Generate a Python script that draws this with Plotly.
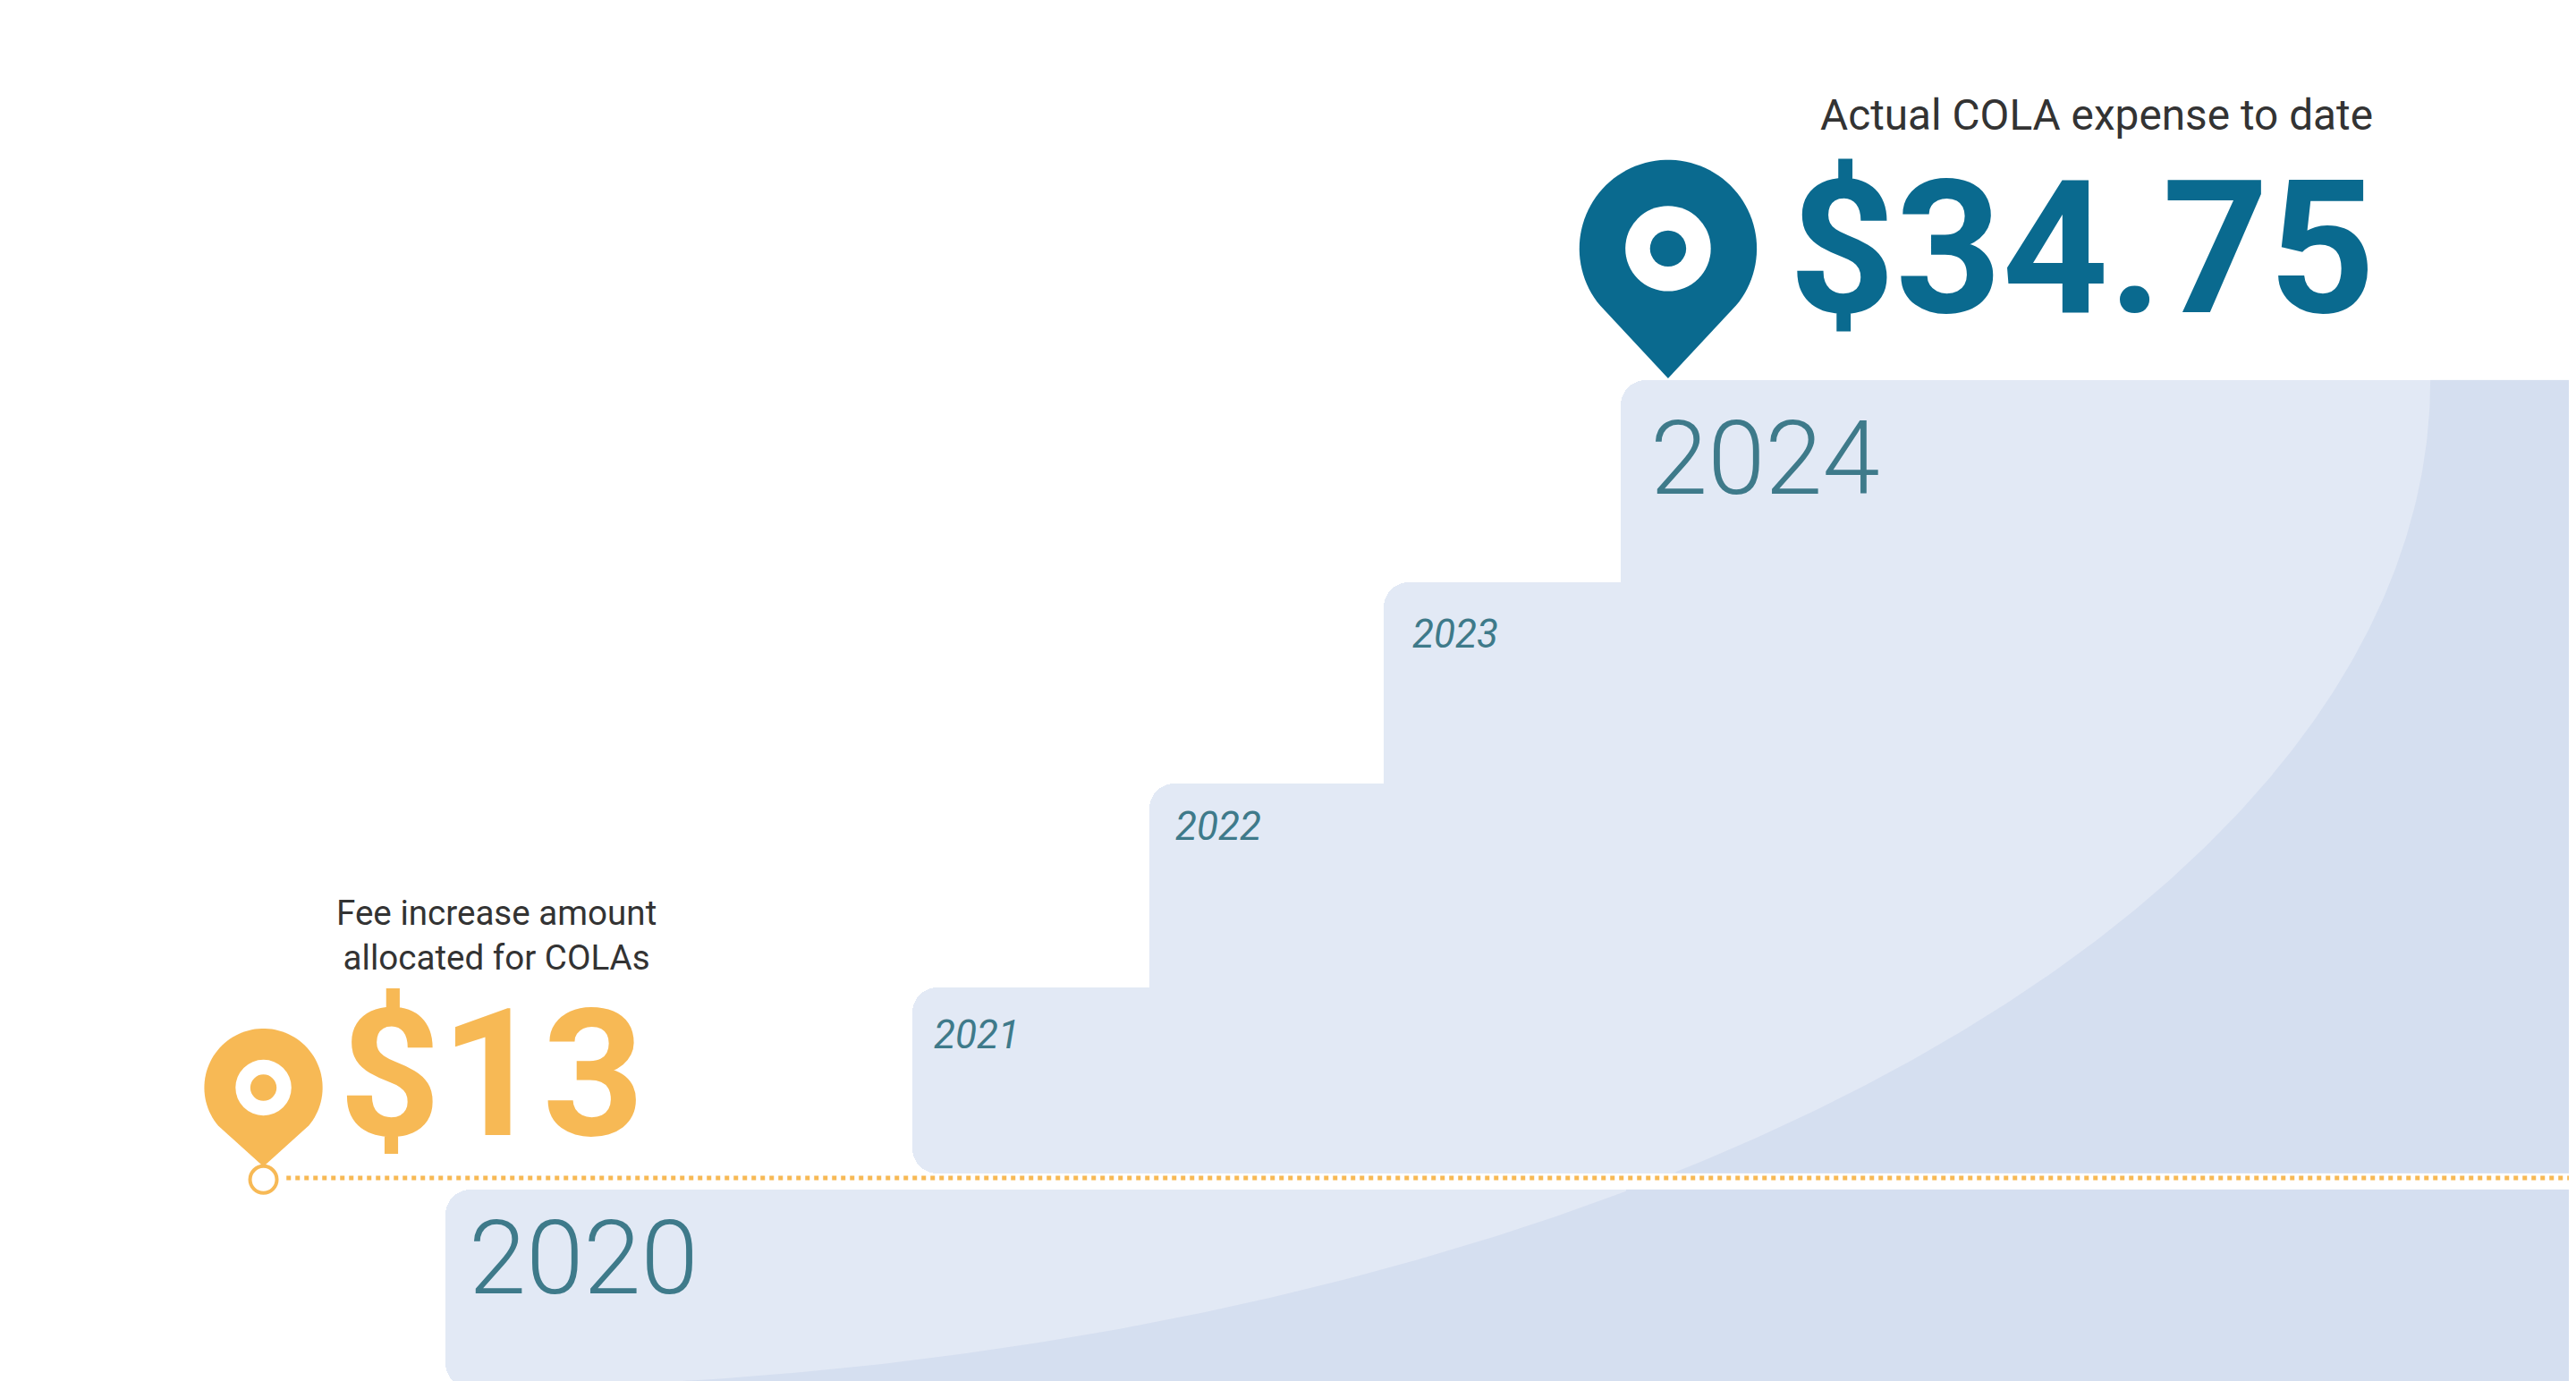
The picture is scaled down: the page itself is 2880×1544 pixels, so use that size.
import plotly.graph_objects as go
import numpy as np

W, H = 1568, 841  # design units (scaled to 2880x1544)
years = ["2020", "2021", "2022", "2023", "2024"]
step_left = [267, 551, 695, 838, 982]
step_top = [720, 597, 473, 350, 227]
fee_amount = "$13"
actual_amount = "$34.75"

def Y(p):
    return H - p

fig = go.Figure()
STEP = "#e2e9f5"
for i, yr in enumerate(years):
    base = 0 if i == 0 else Y(710)
    x0 = step_left[i]
    x1 = W + 40
    fig.add_trace(go.Bar(x=[(x0 + x1) / 2], y=[Y(step_top[i]) - base], base=[base],
                         width=[x1 - x0], marker=dict(color=STEP, line_width=0, cornerradius=28),
                         hoverinfo="skip", showlegend=False))

# darker lower-right tint (outside a large ellipse centred upper-left)
def tint(ylo, yhi):
    t = np.linspace(0, np.pi / 2, 200)
    ex = 270 + 1205 * np.cos(t)
    ey = 227 + 614 * np.sin(t)
    m = (ey >= ylo) & (ey <= yhi)
    xs = list(ex[m]); ys = list(ey[m])
    xs = [xs[0] if ylo <= 227 else W + 40] + xs
    ys = [ylo] + ys
    if yhi > 841:
        xs += [xs[-1], W + 40]; ys += [yhi, yhi]
    else:
        xs += [xs[-1], W + 40]; ys += [yhi, yhi]
    xs += [W + 40]; ys += [ylo]
    # fix start: left-most arc point at ylo
    fig.add_trace(go.Scatter(x=xs, y=[Y(v) for v in ys], fill="toself",
                             fillcolor="rgba(170,188,224,0.22)", line_width=0, mode="lines",
                             hoverinfo="skip", showlegend=False))

def tint_band(ylo, yhi):
    t = np.linspace(0, np.pi / 2, 300)
    ex = 270 + 1205 * np.cos(t)
    ey = 227 + 614 * np.sin(t)
    m = (ey >= ylo) & (ey <= yhi)
    xs = list(ex[m]); ys = list(ey[m])
    if ys[-1] < yhi:
        xs.append(xs[-1]); ys.append(yhi)
    xs = xs + [W + 40, W + 40]; ys = ys + [yhi, ylo]
    xs = [xs[0]] + xs; ys = [ylo] + ys
    fig.add_trace(go.Scatter(x=xs, y=[Y(v) for v in ys], fill="toself",
                             fillcolor="rgba(170,188,224,0.22)", line_width=0, mode="lines",
                             hoverinfo="skip", showlegend=False))

tint_band(227, 710)
tint_band(720, 845)

ORANGE = "#f7b955"
BLUE = "#0a6a8f"
fig.add_trace(go.Scatter(x=[170, W], y=[Y(713), Y(713)], mode="lines",
                         line=dict(color=ORANGE, width=5, dash="dot"), hoverinfo="skip", showlegend=False))
fig.add_trace(go.Scatter(x=[156], y=[Y(714)], mode="markers",
                         marker=dict(size=30, color="white", line=dict(color=ORANGE, width=4)),
                         hoverinfo="skip", showlegend=False))

def pin(cx, cy, r, tip, color):
    t = np.linspace(np.radians(-40), np.radians(220), 80)
    pts = [(cx + r * np.cos(a), cy - r * np.sin(a)) for a in t]
    path = "M %f,%f " % (cx, Y(tip)) + " ".join("L %f,%f" % (x, Y(y)) for x, y in pts) + " Z"
    fig.add_shape(type="path", path=path, fillcolor=color, line_width=0, layer="above")

def circ(cx, cy, r, color):
    fig.add_shape(type="circle", x0=cx - r, x1=cx + r, y0=Y(cy) - r, y1=Y(cy) + r,
                  fillcolor=color, line_width=0, layer="above")

pin(1011, 147, 54, 226, BLUE); circ(1011, 147, 26, "white"); circ(1011, 147, 11, BLUE)
pin(156, 658, 36, 706, ORANGE); circ(156, 658, 17, "white"); circ(156, 658, 8, ORANGE)

S = 2880 / 1568
def ann(text, x, y, size, color, xanchor="left", weight=400, style="normal"):
    fig.add_annotation(x=x, y=Y(y), text=text, showarrow=False, xanchor=xanchor, yanchor="middle",
                       font=dict(family="Roboto", size=size * S, color=color, weight=weight, style=style))

ann("Actual COLA expense to date", 1441, 66, 26, "#333333", xanchor="right")
ann(actual_amount, 1443, 147, 113, BLUE, xanchor="right", weight=700)
ann("Fee increase amount<br>allocated for COLAs", 298, 565, 21, "#333333", xanchor="center")
ann(fee_amount, 201, 650, 108, ORANGE, weight=700)
ann(years[4], 999, 275, 63, "#3e7a8a", weight=300)
ann(years[0], 280, 762, 63, "#3e7a8a", weight=300)
ann(years[1], 563, 626, 24, "#3e7a8a", style="italic")
ann(years[2], 710, 499, 24, "#3e7a8a", style="italic")
ann(years[3], 854, 382, 24, "#3e7a8a", style="italic")

fig.update_layout(width=2880, height=1544, margin=dict(l=0, r=0, t=0, b=0),
                  paper_bgcolor="white", plot_bgcolor="white", barmode="overlay", bargap=0,
                  xaxis=dict(range=[0, W], visible=False, fixedrange=True),
                  yaxis=dict(range=[0, H], visible=False, fixedrange=True))
fig.write_html("out.html", config={"displayModeBar": False})
